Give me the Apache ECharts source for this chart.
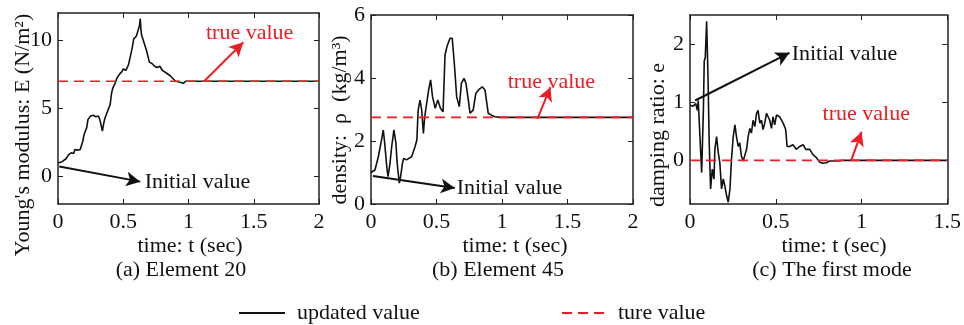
<!DOCTYPE html>
<html>
<head>
<meta charset="utf-8">
<script src="https://cdn.jsdelivr.net/npm/echarts@6/dist/echarts.min.js"></script>
<style>
  html, body { margin: 0; padding: 0; background: #fff; }
  #chart { width: 964px; height: 325px; }
</style>
</head>
<body>
<div id="chart"></div>
<script>
// (a) Element 20 - Young's modulus
const timeA = [0, 0.03, 0.06, 0.08, 0.1, 0.12, 0.13, 0.15, 0.17, 0.18, 0.19, 0.2, 0.22, 0.23, 0.25, 0.27, 0.29, 0.31, 0.32, 0.33,
  0.34, 0.35, 0.36, 0.38, 0.4, 0.41, 0.42, 0.44, 0.45, 0.46, 0.47, 0.49, 0.5, 0.52, 0.54, 0.55, 0.57, 0.58, 0.6, 0.61,
  0.62, 0.625, 0.63, 0.635, 0.64, 0.66, 0.68, 0.69, 0.7, 0.72, 0.74, 0.76, 0.77, 0.78, 0.8, 0.81, 0.83, 0.84, 0.86, 0.88,
  0.9, 0.93, 0.96, 0.98, 1.0, 2.0];
const youngA = [1.0, 1.1, 1.3, 1.6, 1.75, 1.7, 2.0, 1.95, 2.0, 1.9, 2.6, 3.1, 3.6, 4.2, 4.45, 4.5, 4.4, 4.45, 4.2, 3.8,
  3.35, 3.9, 4.3, 4.8, 5.3, 6.1, 6.5, 6.9, 7.2, 7.1, 7.5, 7.7, 7.9, 7.8, 8.2, 8.1, 9.5, 10.1, 10.3, 10.6,
  10.5, 11.1, 11.6, 10.9, 10.4, 9.8, 9.2, 8.8, 8.4, 8.3, 8.1, 8.0, 7.9, 8.1, 7.8, 7.9, 7.6, 7.7, 7.4, 7.2,
  7.0, 6.95, 6.85, 7.0, 7.0, 7.0];
const trueE = 7;

// (b) Element 45 - density
const timeB = [0, 0.013, 0.03, 0.056, 0.08, 0.094, 0.107, 0.12, 0.13, 0.145, 0.158, 0.175, 0.19, 0.2, 0.216, 0.226, 0.24, 0.25, 0.27, 0.31,
  0.336, 0.35, 0.36, 0.374, 0.387, 0.4, 0.41, 0.44, 0.455, 0.47, 0.49, 0.51, 0.53, 0.55, 0.565, 0.58, 0.603, 0.62, 0.636, 0.654,
  0.674, 0.69, 0.71, 0.725, 0.743, 0.756, 0.78, 0.8, 0.82, 0.85, 0.87, 0.895, 0.92, 0.946, 0.985, 2.0];
const densityB = [1.0, 1.03, 1.08, 1.5, 2.03, 2.35, 1.82, 1.19, 0.87, 1.29, 1.82, 2.35, 1.93, 1.29, 0.66, 0.87, 1.29, 1.45, 1.4, 1.5,
  1.82, 2.03, 2.98, 3.3, 2.98, 2.24, 2.77, 3.62, 3.94, 3.4, 3.04, 3.3, 3.04, 2.93, 4.73, 5.0, 5.26, 5.26, 4.47, 3.4,
  3.09, 3.83, 3.99, 3.83, 3.3, 2.88, 2.98, 3.51, 3.62, 3.72, 3.62, 2.88, 2.82, 2.77, 2.75, 2.75];
const trueRho = 2.75;

// (c) The first mode - damping ratio
const timeC = [0, 0.006, 0.019, 0.033, 0.043, 0.048, 0.058, 0.068, 0.078, 0.083, 0.089, 0.097, 0.105, 0.112, 0.12, 0.13, 0.14, 0.145, 0.155, 0.165,
  0.174, 0.184, 0.194, 0.203, 0.213, 0.223, 0.233, 0.242, 0.252, 0.262, 0.271, 0.281, 0.29, 0.3, 0.31, 0.32, 0.33, 0.339, 0.349, 0.358,
  0.368, 0.378, 0.388, 0.397, 0.407, 0.417, 0.426, 0.436, 0.446, 0.455, 0.465, 0.475, 0.484, 0.494, 0.504, 0.523, 0.543, 0.558, 0.566, 0.581,
  0.6, 0.62, 0.64, 0.659, 0.675, 0.698, 0.717, 0.736, 0.756, 0.775, 0.795, 0.814, 0.853, 0.89, 0.93, 1.5];
const dampingC = [0.95, 0.95, 0.93, 0.98, 0.86, 1.03, 0.41, -0.21, 0.86, 1.71, 1.77, 2.39, 1.43, 0.3, -0.49, -0.15, -0.32, 0.19, 0.41, 0.13,
  -0.04, -0.49, -0.32, -0.44, -0.6, -0.72, -0.49, 0.02, 0.41, 0.61, 0.41, 0.24, 0.3, 0.07, -0.01, 0.02, 0.19, 0.41, 0.55, 0.47,
  0.69, 0.58, 0.81, 0.86, 0.64, 0.69, 0.53, 0.64, 0.81, 0.84, 0.69, 0.55, 0.75, 0.61, 0.78, 0.75, 0.64, 0.53, 0.24, 0.24,
  0.27, 0.19, 0.24, 0.27, 0.19, 0.19, 0.1, 0.05, -0.03, -0.05, -0.04, -0.01, -0.01, 0, 0, 0];
const trueZeta = 0;

// tick labels
const xTicksAB = [0, 0.5, 1, 1.5, 2];
const xTicksC = [0, 0.5, 1, 1.5];
const yTicksA = [0, 5, 10];
const yTicksB = [0, 2, 4, 6];
const yTicksC = [0, 1, 2];

// annotation arrows (start, end) and labels, in data units
const arrowsA = [[[1.12, 7.0], [1.42, 9.85], 'red'], [[0.01, 0.75], [0.63, -0.36], 'black']];
const arrowsB = [[[1.27, 2.7], [1.37, 3.71], 'red'], [[0.015, 0.89], [0.64, 0.51], 'black']];
const arrowsC = [[[0.03, 1.03], [0.58, 1.85], 'black'], [[0.94, 0.0], [1.0, 0.49], 'red']];
const notesA = [['true value', [1.13, 10.5], 'red'], ['Initial value', [0.66, -0.43], 'black']];
const notesB = [['true value', [1.04, 3.87], 'red'], ['Initial value', [0.65, 0.5], 'black']];
const notesC = [['Initial value', [0.59, 1.83], 'black'], ['true value', [0.77, 0.8], 'red']];

const FONT = 'Liberation Serif';
const FS = 22;
const INK = '#111';
const RED = '#ee1d23';
const colorOf = c => (c === 'red' ? RED : INK);

const zip = (xs, ys) => xs.map((x, i) => [x, ys[i]]);

function makeAxes(dim, grid, min, max, ticks) {
  const base = {
    type: 'value', gridIndex: grid, min: min, max: max,
    axisLine: { show: true, onZero: false, lineStyle: { color: '#222', width: 1.5 } },
    axisTick: { show: true, inside: true, length: 5, customValues: ticks, lineStyle: { color: '#222', width: 1 } },
    splitLine: { show: false }
  };
  const main = Object.assign({}, base, {
    position: dim === 'x' ? 'bottom' : 'left',
    axisLabel: { customValues: ticks, color: INK, fontFamily: FONT, fontSize: FS, margin: dim === 'x' ? 7 : 6 }
  });
  const mirror = Object.assign({}, base, {
    position: dim === 'x' ? 'top' : 'right',
    axisLabel: { show: false }
  });
  return [main, mirror];
}

function annotations(arrows, notes) {
  return {
    markLine: {
      silent: true,
      symbol: ['none', 'arrow'],
      symbolSize: [11, 14],
      label: { show: false },
      data: arrows.map(a => [
        { coord: a[0], lineStyle: { color: colorOf(a[2]), width: 2, type: 'solid' } },
        { coord: a[1] }
      ])
    },
    markPoint: {
      silent: true,
      symbol: 'circle',
      symbolSize: 1,
      itemStyle: { color: 'rgba(0,0,0,0)' },
      data: notes.map(n => ({
        name: n[0], coord: n[1],
        label: { show: true, position: 'right', distance: 0, formatter: '{b}', color: colorOf(n[2]), fontFamily: FONT, fontSize: FS }
      }))
    }
  };
}

function updatedSeries(idx, data, arrows, notes) {
  return Object.assign({
    name: 'updated value', type: 'line', xAxisIndex: idx * 2, yAxisIndex: idx * 2,
    data: data, symbol: 'none', z: 3,
    lineStyle: { color: INK, width: 1.6 }, itemStyle: { color: INK }
  }, annotations(arrows, notes));
}

function trueSeries(idx, xmax, v) {
  return {
    name: 'ture value', type: 'line', xAxisIndex: idx * 2, yAxisIndex: idx * 2,
    data: [[0, v], [xmax, v]], symbol: 'none', z: 4,
    lineStyle: { color: RED, width: 1.6, type: [10, 6] }, itemStyle: { color: RED }
  };
}

const text = (t, x, y, rot) => ({
  type: 'text', x: x, y: y, rotation: rot || 0,
  style: { text: t, fill: INK, font: FS + 'px "' + FONT + '"', textAlign: 'center', textVerticalAlign: 'middle' }
});

const legendBase = {
  top: 297, itemWidth: 46, itemHeight: 14,
  itemStyle: { opacity: 0 },
  textStyle: { fontFamily: FONT, fontSize: FS, color: INK }
};

const chart = echarts.init(document.getElementById('chart'));
chart.setOption({
  backgroundColor: '#fff',
  animation: false,
  grid: [
    { left: 58, top: 13, width: 261, height: 191 },
    { left: 371, top: 15, width: 262, height: 189 },
    { left: 690, top: 15, width: 258, height: 189 }
  ],
  xAxis: [].concat(
    makeAxes('x', 0, 0, 2, xTicksAB),
    makeAxes('x', 1, 0, 2, xTicksAB),
    makeAxes('x', 2, 0, 1.5, xTicksC)
  ),
  yAxis: [].concat(
    makeAxes('y', 0, -2, 12, yTicksA),
    makeAxes('y', 1, 0, 6, yTicksB),
    makeAxes('y', 2, -0.75, 2.5, yTicksC)
  ),
  legend: [
    Object.assign({}, legendBase, { data: ['updated value'], left: 233,
      textStyle: Object.assign({}, legendBase.textStyle, { padding: [0, 0, 0, 7] }) }),
    Object.assign({}, legendBase, { data: ['ture value'], left: 556,
      textStyle: Object.assign({}, legendBase.textStyle, { padding: [0, 0, 0, 5] }) })
  ],
  graphic: [
    text("Young's modulus: E (N/m\u00b2)", 23, 135, Math.PI / 2),
    text('density:  \u03c1  (kg/m\u00b3)', 340, 120, Math.PI / 2),
    text('damping ratio: e', 658, 135, Math.PI / 2),
    text('time: t (sec)', 190, 246),
    text('time: t (sec)', 515, 246),
    text('time: t (sec)', 834, 246),
    text('(a) Element 20', 181, 270),
    text('(b) Element 45', 498, 270),
    text('(c) The first mode', 832, 270)
  ],
  series: [
    updatedSeries(0, zip(timeA, youngA), arrowsA, notesA),
    trueSeries(0, 2, trueE),
    updatedSeries(1, zip(timeB, densityB), arrowsB, notesB),
    trueSeries(1, 2, trueRho),
    updatedSeries(2, zip(timeC, dampingC), arrowsC, notesC),
    trueSeries(2, 1.5, trueZeta)
  ]
});
</script>
</body>
</html>
